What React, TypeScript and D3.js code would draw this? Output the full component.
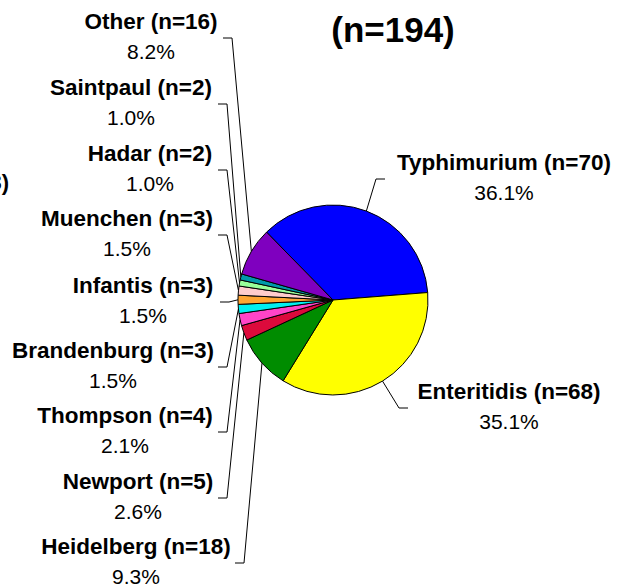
import React from 'react';
import * as d3 from 'd3';

// serotype counts, clockwise from the top-right slice
const serotypes = ['Typhimurium', 'Enteritidis', 'Heidelberg', 'Newport', 'Thompson', 'Brandenburg', 'Infantis', 'Muenchen', 'Hadar', 'Saintpaul', 'Other'];
const counts = [70, 68, 18, 5, 4, 3, 3, 3, 2, 2, 16];
const sliceColors = ['#0000ff', '#ffff00', '#008c00', '#dc0a3c', '#ff44c8', '#00f0f0', '#ffa533', '#ffcccc', '#99ff99', '#0099aa', '#7f00bf'];
const titleText = '(n=194)';

// label block placement: text centre x, block centre y, tick start x, side
const labelLayout = [
    {cx: 504, cy: 179, tx: 385, side: 'right'},
    {cx: 509, cy: 408, tx: 408, side: 'right'},
    {cx: 136, cy: 563, tx: 235, side: 'left'},
    {cx: 138, cy: 498, tx: 218, side: 'left'},
    {cx: 125, cy: 432, tx: 218, side: 'left'},
    {cx: 113, cy: 367, tx: 218, side: 'left'},
    {cx: 143, cy: 302, tx: 220, side: 'left'},
    {cx: 127, cy: 235, tx: 218, side: 'left'},
    {cx: 150, cy: 170, tx: 218, side: 'left'},
    {cx: 131, cy: 104, tx: 218, side: 'left'},
    {cx: 151, cy: 38, tx: 223, side: 'left'},
];

function App() {
    const width = 618;
    const height = 588;
    const center = {x: 333, y: 300};
    const radius = 95;
    const font = "'Liberation Sans', Arial, sans-serif";
    const total = d3.sum(counts);
    const start = -44.4 * Math.PI / 180;

    const pie = d3.pie<number>()
        .sort(null)
        .startAngle(start)
        .endAngle(start + 2 * Math.PI);
    const arcs = pie(counts);
    const arc = d3.arc<d3.PieArcDatum<number>>()
        .innerRadius(0)
        .outerRadius(radius);

    return (
        <svg width={width} height={height} style={{position: 'absolute', left: 0, top: 0}}>
            <rect width={width} height={height} fill="#ffffff"/>
            <text x={393} y={42} textAnchor="middle" fontFamily={font} fontWeight="bold" fontSize={35}>{titleText}</text>
            {/* label of a neighbouring chart, cut off at the left edge as in the source */}
            <text x={9} y={190} textAnchor="end" fontFamily={font} fontWeight="bold" fontSize={22}>(n=3)</text>
            <g transform={`translate(${center.x},${center.y})`}>
                {arcs.map((a, i) => (
                    <path key={i} d={arc(a) || ''} fill={sliceColors[i]} stroke="#000" strokeWidth={1}/>
                ))}
            </g>
            {arcs.map((a, i) => {
                const lay = labelLayout[i];
                const mid = (a.startAngle + a.endAngle) / 2;
                const ex = center.x + radius * Math.sin(mid);
                const ey = center.y - radius * Math.cos(mid);
                const tx2 = lay.side === 'left' ? lay.tx + 9 : lay.tx - 9;
                const pts: [number, number][] = [[lay.tx, lay.cy], [tx2, lay.cy], [ex, ey]];
                const pct = (counts[i] / total * 100).toFixed(1) + '%';
                return (
                    <g key={'l' + i}>
                        <path d={d3.line()(pts) || ''} fill="none" stroke="#000" strokeWidth={1}/>
                        <text x={lay.cx} y={lay.cy - 9} textAnchor="middle" fontFamily={font} fontWeight="bold" fontSize={22.5}>
                            {serotypes[i]} (n={counts[i]})
                        </text>
                        <text x={lay.cx} y={lay.cy + 21} textAnchor="middle" fontFamily={font} fontSize={21}>
                            {pct}
                        </text>
                    </g>
                );
            })}
        </svg>
    );
}

export default App;
